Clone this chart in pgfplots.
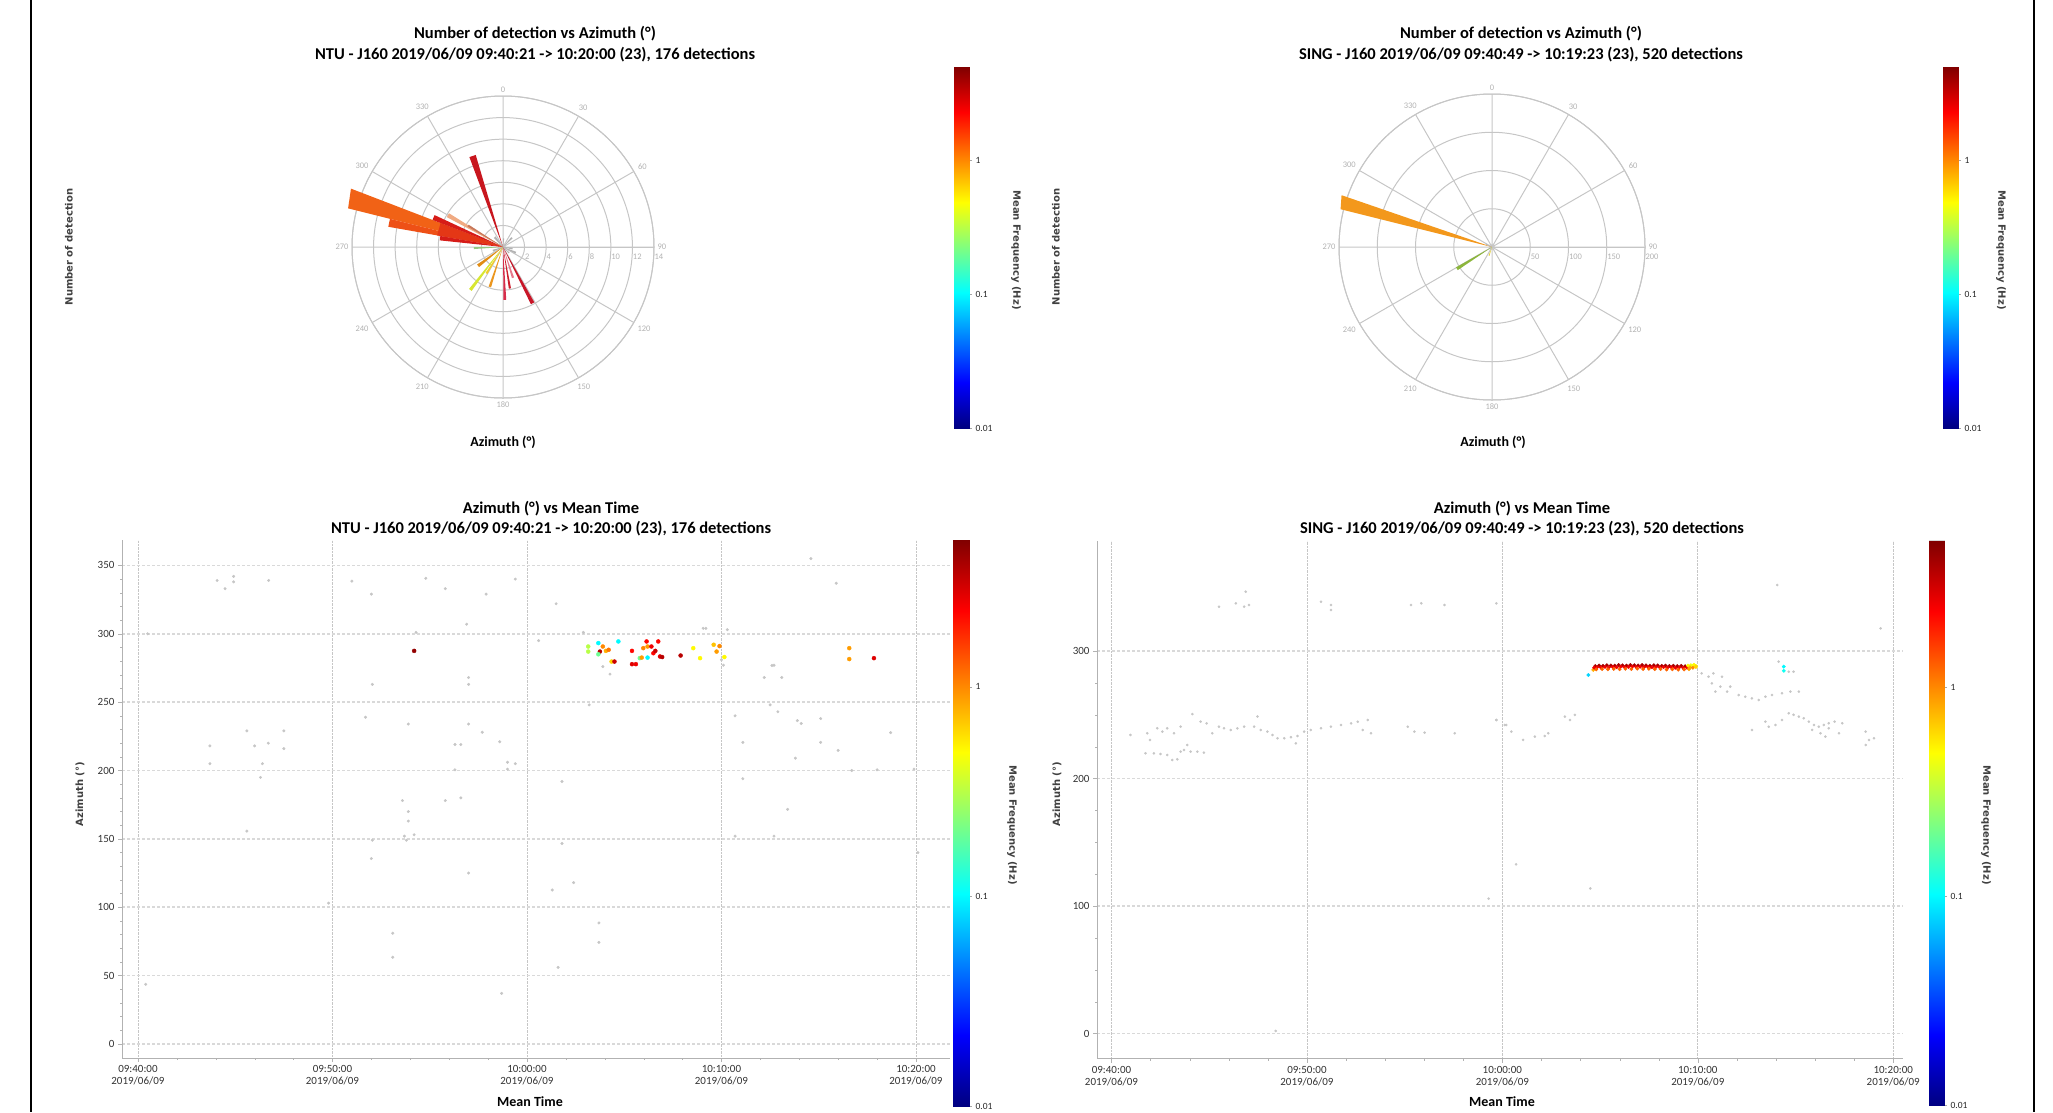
\documentclass[border=0pt]{standalone}
\usepackage{fontspec}
\setmainfont{Carlito}
\newfontfamily\dejavu{DejaVu Sans}
\usepackage{pgfplots}
\pgfplotsset{compat=1.18}
\usepgfplotslibrary{polar}

\definecolor{labelgray}{gray}{0.25}

\pgfplotsset{
  % rose diagram, azimuth clockwise from north
  rose/.style={
    scale only axis, anchor=center, clip=false,
    x filter/.expression={mod(450-x,360)},
    xtick={0,30,...,330},
    xticklabels={90,60,30,0,330,300,270,240,210,180,150,120},
    ymin=0, grid=major,
    major grid style={gray!45, line width=1pt},
    axis line style={gray!45, line width=1pt},
    major tick length=0pt,
    tick label style={gray!60, font=\fontsize{8.5}{9}\selectfont,
      /pgf/number format/assume math mode=true},
    yticklabel style={anchor=north west, xshift=-3pt, yshift=-3pt},
  },
  % azimuth vs time scatter
  scat/.style={
    scale only axis, anchor=north west, axis lines*=left,
    xtick={0,10,20,30,40},
    xticklabels={{09:40:00\\2019/06/09},{09:50:00\\2019/06/09},{10:00:00\\2019/06/09},
      {10:10:00\\2019/06/09},{10:20:00\\2019/06/09}},
    xticklabel style={align=center, font=\fontsize{11}{12}\selectfont},
    yticklabel style={font=\fontsize{11}{11}\selectfont},
    tick label style={text=gray!40!black, /pgf/number format/assume math mode=true},
    xmajorgrids, ymajorgrids,
    x grid style={gray!45, densely dotted, line width=0.7pt},
    y grid style={gray!30, densely dashed, line width=1.6pt},
    tick align=outside, major tick length=4pt, minor tick length=2pt,
    tick style={gray!60}, axis line style={gray!60, line width=0.8pt},
    minor x tick num=4,
    colormap/jet, point meta min=-2, point meta max=0.7,
  },
  % log frequency colour scale, 0.01 .. 5 Hz
  fbar/.style={
    scale only axis, anchor=north west,
    xmin=0, xmax=1, ymin=-2, ymax=0.7,
    xtick=\empty, ytick={-2,-1,0}, yticklabels={0.01,0.1,1},
    ytick pos=right, yticklabel pos=right,
    tick align=outside, major tick length=3pt, tick style={gray!70},
    axis line style={gray!30},
    tick label style={font=\fontsize{9.5}{10}\selectfont, text=gray!30!black},
    colormap/jet, point meta min=-2, point meta max=0.7,
  },
  gray pts/.style={only marks, mark=*, mark size=1.3pt, draw=gray!45, fill=gray!45},
  hz pts/.style={scatter, only marks, mark=*, mark size=2pt, point meta=explicit,
    scatter/use mapped color={draw=mapped color, fill=mapped color}},
}

\begin{document}
\begin{tikzpicture}
\path[use as bounding box] (0,0) rectangle (2053pt,-1112pt);

% page frame
\draw[line width=2.2pt] (31pt,0) -- (31pt,-1112pt);
\draw[line width=2.2pt] (2034pt,0) -- (2034pt,-1112pt);

% ---------------- NTU rose ----------------
\begin{polaraxis}[rose, at={(503pt,-247pt)}, width=302pt, height=302pt,
  ymax=14, ytick={2,4,...,14}]
% azimuth from, azimuth to, count
\addplot[fill={rgb,255:red,241;green,98;blue,22}, draw=none] coordinates {(284,0) (284,14.8) (291,15.1) (291,0)};
\addplot[fill={rgb,255:red,238;green,80;blue,22}, draw=none] coordinates {(280,0) (280,10.8) (284,10.8) (284,0)};
\addplot[fill={rgb,255:red,228;green,55;blue,22}, draw=none] coordinates {(280,0) (280,6.2) (291,6.2) (291,0)};
\addplot[fill={rgb,255:red,214;green,28;blue,24}, draw=none] coordinates {(276,0) (276,5.9) (280,5.9) (280,0)};
\addplot[fill={rgb,255:red,214;green,28;blue,24}, draw=none] coordinates {(291,0) (291,7.0) (295,7.0) (295,0)};
\addplot[fill={rgb,255:red,240;green,170;blue,130}, draw=none] coordinates {(298,0) (298,5.9) (302,5.9) (302,0)};
\addplot[fill={rgb,255:red,200;green,120;blue,90}, draw=none] coordinates {(300,0) (300,3.8) (303,3.8) (303,0)};
\addplot[fill={rgb,255:red,200;green,22;blue,30}, draw=none] coordinates {(339.5,0) (339.5,8.9) (343.5,8.9) (343.5,0)};
\addplot[fill={rgb,255:red,200;green,22;blue,40}, draw=none] coordinates {(150.5,0) (150.5,5.9) (154,5.9) (154,0)};
\addplot[fill={rgb,255:red,215;green,45;blue,75}, draw=none] coordinates {(176.5,0) (176.5,4.9) (179.5,4.9) (179.5,0)};
\addplot[fill={rgb,255:red,205;green,30;blue,45}, draw=none] coordinates {(169,0) (169,3.9) (172,3.9) (172,0)};
\addplot[fill={rgb,255:red,230;green,120;blue,140}, draw=none] coordinates {(160,0) (160,3.0) (164,3.0) (164,0)};
\addplot[fill={rgb,255:red,235;green,150;blue,30}, draw=none] coordinates {(196.5,0) (196.5,3.9) (200,3.9) (200,0)};
\addplot[fill={rgb,255:red,215;green,230;blue,50}, draw=none] coordinates {(215.5,0) (215.5,5.0) (219,5.0) (219,0)};
\addplot[fill={rgb,255:red,242;green,205;blue,40}, draw=none] coordinates {(210,0) (210,2.9) (214,2.9) (214,0)};
\addplot[fill={rgb,255:red,225;green,140;blue,20}, draw=none] coordinates {(230,0) (230,2.9) (236,2.9) (236,0)};
\addplot[fill={rgb,255:red,150;green,200;blue,130}, draw=none] coordinates {(266,0) (266,2.7) (270,2.7) (270,0)};
\addplot[fill=gray!60, draw=none] coordinates {(0,0) (0,0.8) (8,0.8) (8,0)};
\addplot[fill=gray!60, draw=none] coordinates {(40,0) (40,1.2) (48,1.2) (48,0)};
\addplot[fill=gray!60, draw=none] coordinates {(95,0) (95,0.9) (105,0.9) (105,0)};
\addplot[fill=gray!60, draw=none] coordinates {(110,0) (110,1.3) (118,1.3) (118,0)};
\addplot[fill=gray!60, draw=none] coordinates {(130,0) (130,0.8) (138,0.8) (138,0)};
\addplot[fill=gray!60, draw=none] coordinates {(245,0) (245,1.0) (255,1.0) (255,0)};
\addplot[fill=gray!60, draw=none] coordinates {(315,0) (315,1.2) (325,1.2) (325,0)};
\end{polaraxis}

% ---------------- SING rose ----------------
\begin{polaraxis}[rose, at={(1492pt,-247pt)}, width=306pt, height=306pt,
  ymax=200, ytick={50,100,150,200}]
\addplot[fill={rgb,255:red,243;green,152;blue,28}, draw=none] coordinates {(284,0) (284,204) (289,208) (289,0)};
\addplot[fill={rgb,255:red,140;green,182;blue,60}, draw=none] coordinates {(236,0) (236,54) (240.5,54) (240.5,0)};
\addplot[fill=gray!60, draw=none] coordinates {(290,0) (290,9) (296,9) (296,0)};
\addplot[fill={rgb,255:red,230;green,210;blue,60}, draw=none] coordinates {(196,0) (196,12) (202,12) (202,0)};
\end{polaraxis}

% ---------------- NTU azimuth vs time ----------------
\begin{axis}[scat, at={(122pt,-540pt)}, width=828pt, height=518pt,
  xmin=-0.82, xmax=41.75, ymin=-10.3, ymax=368.6,
  ytick={0,50,...,350}, minor y tick num=4]
\addplot[gray pts] table {
t az
0.5 300
0.4 43.6
3.7 218
3.7 205
4.07 339
4.48 333
4.92 342
4.92 338
5.6 229
5.6 155.7
6.0 218
6.3 195
6.4 205
6.7 220
6.72 339
7.5 229
7.5 216
9.8 103
11.0 338.5
11.7 239
12.0 329
12.05 263
12.05 149
12.0 135.6
13.1 81
13.1 63.4
13.6 178
13.7 152
13.8 149
13.9 234
13.9 170
13.9 163
14.2 153
14.3 301
14.8 340.6
15.8 333
15.8 178
16.3 219
16.3 200.5
16.6 219
16.6 180
16.9 307
17.0 268
17.0 263
17.0 234
17.0 125
17.7 228
17.9 329
18.6 221
18.7 37
19.0 206
19.0 201
19.4 340
19.4 205
20.6 295
21.3 112.6
21.5 322
21.6 56
21.8 192
21.8 146.6
22.4 118
22.9 301
23.2 248
23.7 88.5
23.7 74.3
23.9 276
24.27 270.5
29.06 304
29.2 304
30.0 281
30.1 277
30.3 303
30.7 240
30.7 152
31.1 220.6
31.1 194
32.2 268
32.5 248
32.6 276.8
32.7 277
32.7 152
32.9 243
33.1 268
33.4 171.6
33.8 209
33.9 236.5
34.1 234.4
34.6 355
35.1 238
35.1 220.6
35.9 337
36.0 214.7
36.7 200
38.0 200.5
38.7 227.7
39.9 201
40.1 140
};
% f = log10 of mean frequency (Hz)
\addplot[hz pts] table[meta=f] {
t az f
14.2 287.5 0.65
23.15 290.7 -0.5
23.15 287 -0.5
23.67 293.2 -1.0
23.75 287 0.55
23.67 285 -0.7
23.9 290.7 0.0
24.06 287.5 -0.1
24.2 288.3 0.05
24.35 279.7 -0.2
24.5 279.7 0.5
24.7 294.4 -1.0
25.4 287.5 0.35
25.4 277.8 0.45
25.6 277.8 0.4
25.8 282.2 -0.7
25.98 289.5 0.0
25.9 282.6 -0.05
26.15 294.4 0.35
26.2 290.7 -0.05
26.2 282.6 -1.0
26.4 290.7 0.4
26.5 285.8 0.35
26.6 287.5 0.5
26.75 294.4 0.35
26.84 283.4 0.45
26.95 283 0.55
27.9 284.1 0.55
28.55 289.5 -0.3
28.9 282.2 -0.3
29.6 292 -0.15
29.75 287 -0.05
29.9 291 0.0
30.15 283 -0.3
36.57 289.5 -0.05
36.57 281.5 -0.05
37.84 282.2 0.45
};
\end{axis}

% ---------------- SING azimuth vs time ----------------
\begin{axis}[scat, at={(1097pt,-540.5pt)}, width=806pt, height=518pt,
  xmin=-0.74, xmax=40.5, ymin=-19.6, ymax=386.7,
  ytick={0,100,200,300}, minor y tick num=3]
\addplot[gray pts, mark size=1.1pt] table {
t az
0.97 234.2
1.83 235.5
1.97 230.3
2.34 239.4
2.60 236.8
2.85 239.4
3.20 235.5
3.54 240.7
4.14 250.6
4.56 244.6
4.87 243.3
1.74 219.8
2.17 219.8
2.51 219.3
2.85 218.5
3.11 214.6
3.37 215.1
3.54 221.1
3.71 222.4
3.88 226.3
4.05 221.1
4.39 221.1
4.73 220.3
5.16 235.5
5.50 240.7
5.76 239.4
6.10 238.1
6.44 239.4
6.79 240.7
7.30 240.7
7.47 248.6
7.64 238.1
7.98 236.8
8.24 234.2
8.50 231.6
8.84 231.6
9.18 232.4
9.52 233.4
9.86 236.8
10.20 238.1
10.72 239.4
11.23 240.7
11.74 242.0
12.26 243.3
12.60 244.6
12.86 238.1
13.11 245.9
13.28 235.5
9.43 227.6
15.16 240.7
15.50 236.8
16.02 236.0
17.56 235.5
19.69 245.9
20.20 242.0
5.50 334.8
6.36 337.4
6.79 334.8
7.04 336.1
10.72 338.7
11.23 336.1
11.23 332.2
15.33 336.1
15.85 337.4
17.04 336.1
19.69 337.4
6.87 346.6
30.2 282.5
30.55 279.9
30.8 282.5
31.24 279.9
30.72 274.7
31.15 272.1
30.9 268.2
31.5 268.2
31.66 272.1
32.09 265.5
32.43 264.2
32.77 262.9
33.12 261.6
33.46 264.2
33.8 265.5
34.31 266.9
34.06 351.8
34.14 291.7
34.65 283.8
34.9 283.8
34.74 268.2
35.17 268.2
39.35 317.8
34.65 251.2
34.9 250.0
35.17 248.6
35.42 247.3
35.68 244.6
35.94 242.0
36.19 240.7
36.45 242.0
36.70 243.3
37.0 244.6
37.39 243.3
35.85 238.1
36.28 235.5
36.53 232.9
36.70 239.4
37.22 235.5
33.46 244.6
33.63 240.7
33.97 242.0
34.31 245.9
32.77 238.1
38.59 236.8
38.76 230.3
39.01 231.6
38.59 226.3
23.20 248.6
23.46 245.9
23.71 249.9
20.12 242.0
20.46 236.8
21.06 230.3
21.66 232.9
22.17 233.4
22.35 235.5
19.70 245.9
20.70 132.7
24.50 113.8
19.30 105.8
8.40 2.0
};
\addplot[hz pts, mark size=1.7pt] coordinates {
(24.4,281.2) [-1.1] (34.4,287.8) [-1.0] (34.4,284.5) [-0.95] (24.65,285.2) [-0.1]
(24.75,288.2) [0.6] (24.95,288.6) [0.6] (25.15,288.4) [0.6] (25.35,288.9) [0.6]
(25.55,288.7) [0.6] (25.75,288.5) [0.6] (25.95,289.0) [0.6] (26.15,288.8) [0.6]
(26.35,288.6) [0.6] (26.55,289.1) [0.6] (26.75,288.9) [0.6] (26.95,288.7) [0.6]
(27.15,289.0) [0.6] (27.35,288.8) [0.6] (27.55,288.5) [0.6] (27.75,288.9) [0.6]
(27.95,288.7) [0.6] (28.15,288.4) [0.6] (28.35,288.6) [0.6] (28.55,288.3) [0.6]
(28.75,288.5) [0.6] (28.95,288.2) [0.6] (29.15,288.4) [0.6] (29.35,288.1) [0.6]
(24.7,286.9) [0.4] (24.85,287.3) [0.4] (25.05,287.0) [0.4] (25.25,287.5) [0.4]
(25.45,287.2) [0.4] (25.65,287.6) [0.4] (25.85,287.3) [0.4] (26.05,287.7) [0.4]
(26.25,287.4) [0.4] (26.45,287.6) [0.4] (26.65,287.8) [0.4] (26.85,287.5) [0.4]
(27.05,287.7) [0.4] (27.25,287.4) [0.4] (27.45,287.6) [0.4] (27.65,287.3) [0.4]
(27.85,287.5) [0.4] (28.05,287.2) [0.4] (28.25,287.4) [0.4] (28.45,287.0) [0.4]
(28.65,287.2) [0.4] (28.85,286.9) [0.4] (29.05,287.1) [0.4] (29.25,286.8) [0.4]
(29.45,287.0) [0.4]
(24.8,285.6) [0.1] (25.1,285.9) [0.1] (25.4,285.7) [0.1] (25.7,286.0) [0.1]
(26.0,285.8) [0.1] (26.3,286.1) [0.1] (26.6,285.9) [0.1] (26.9,286.2) [0.1]
(27.2,285.9) [0.1] (27.5,286.1) [0.1] (27.8,285.8) [0.1] (28.1,285.9) [0.1]
(28.4,285.5) [0.1] (28.7,285.7) [0.1] (29.0,285.4) [0.1] (29.3,285.6) [0.1]
(29.5,288.6) [-0.3] (29.65,288.9) [-0.35] (29.8,289.2) [-0.3] (29.9,288.3) [-0.25]
(29.6,287.2) [-0.1] (29.75,286.9) [0.0] (29.9,287.5) [-0.2] (29.55,285.8) [-0.05]
};
\end{axis}

% ---------------- colour scales ----------------
\begin{axis}[fbar, at={(954pt,-67pt)}, width=15pt, height=361pt]
\addplot[surf, shader=interp, point meta=y, mesh/rows=2, mesh/cols=2] coordinates {(0,-2) (1,-2) (0,0.7) (1,0.7)};
\end{axis}
\begin{axis}[fbar, at={(1943pt,-67pt)}, width=15pt, height=361pt]
\addplot[surf, shader=interp, point meta=y, mesh/rows=2, mesh/cols=2] coordinates {(0,-2) (1,-2) (0,0.7) (1,0.7)};
\end{axis}
\begin{axis}[fbar, at={(953pt,-540pt)}, width=16pt, height=566pt]
\addplot[surf, shader=interp, point meta=y, mesh/rows=2, mesh/cols=2] coordinates {(0,-2) (1,-2) (0,0.7) (1,0.7)};
\end{axis}
\begin{axis}[fbar, at={(1929pt,-540.5pt)}, width=15pt, height=565pt]
\addplot[surf, shader=interp, point meta=y, mesh/rows=2, mesh/cols=2] coordinates {(0,-2) (1,-2) (0,0.7) (1,0.7)};
\end{axis}

% ---------------- titles and labels ----------------
\tikzset{ttl/.style={anchor=base, font=\fontsize{16.5}{20}\selectfont\bfseries},
  lbl/.style={anchor=base, font=\fontsize{14}{16}\selectfont\bfseries},
  rlbl/.style={font=\dejavu\fontsize{10}{12}\selectfont\bfseries, text=labelgray}}
\node[ttl] at (535pt,-38.2pt) {Number of detection vs Azimuth (°)};
\node[ttl] at (535pt,-59.2pt) {NTU - J160 2019/06/09 09:40:21 -> 10:20:00 (23), 176 detections};
\node[ttl] at (1521pt,-38.2pt) {Number of detection vs Azimuth (°)};
\node[ttl] at (1521pt,-59.2pt) {SING - J160 2019/06/09 09:40:49 -> 10:19:23 (23), 520 detections};
\node[ttl] at (551pt,-513pt) {Azimuth (°) vs Mean Time};
\node[ttl] at (551pt,-533pt) {NTU - J160 2019/06/09 09:40:21 -> 10:20:00 (23), 176 detections};
\node[ttl] at (1522pt,-513pt) {Azimuth (°) vs Mean Time};
\node[ttl] at (1522pt,-533pt) {SING - J160 2019/06/09 09:40:49 -> 10:19:23 (23), 520 detections};

\node[lbl] at (503pt,-446pt) {Azimuth (°)};
\node[lbl] at (1493pt,-446pt) {Azimuth (°)};
\node[lbl] at (530pt,-1106pt) {Mean Time};
\node[lbl] at (1502pt,-1106pt) {Mean Time};

\node[rlbl, rotate=90] at (69pt,-247pt) {Number of detection};
\node[rlbl, rotate=90] at (1056pt,-247pt) {Number of detection};
\node[rlbl, rotate=90] at (80pt,-794pt) {Azimuth (°)};
\node[rlbl, rotate=90] at (1057pt,-794pt) {Azimuth (°)};
\node[rlbl, rotate=-90] at (1016pt,-250pt) {Mean Frequency (Hz)};
\node[rlbl, rotate=-90] at (2001pt,-250pt) {Mean Frequency (Hz)};
\node[rlbl, rotate=-90] at (1012pt,-825pt) {Mean Frequency (Hz)};
\node[rlbl, rotate=-90] at (1986pt,-825pt) {Mean Frequency (Hz)};
\end{tikzpicture}
\end{document}
